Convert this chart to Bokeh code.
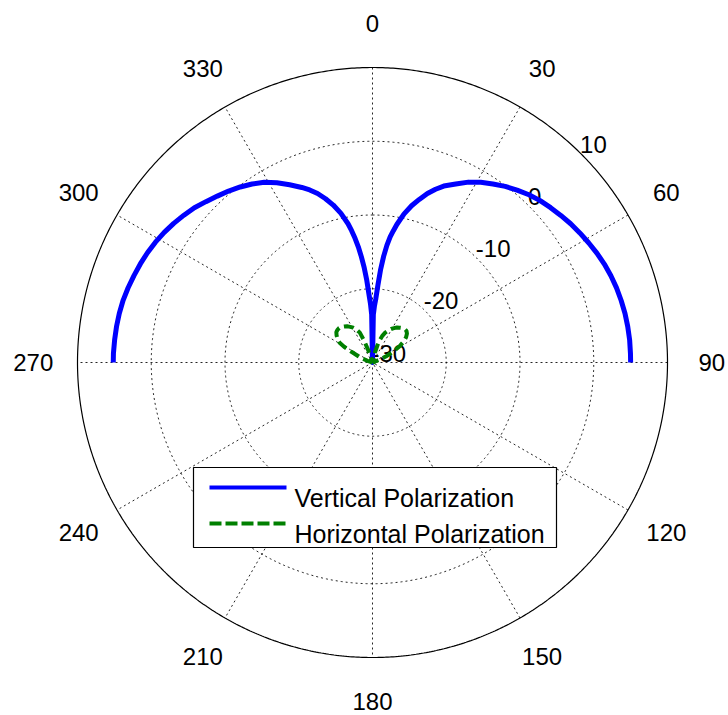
import numpy as np
from bokeh.plotting import figure
from bokeh.models import Range1d
from bokeh.core.properties import value
from bokeh.embed import file_html
from bokeh.resources import INLINE

# ---------------------------------------------------------------- data
# radial axis (dB) and angular ticks (degrees, 0 at top, clockwise)
R_MIN, R_MAX = -30, 10
radial_ticks = [-30, -20, -10, 0, 10]
angle_ticks = [0, 30, 60, 90, 120, 150, 180, 210, 240, 270, 300, 330]
spoke_angles = [0, 30, 60, 90, 120, 150]

# Vertical polarization (angle in degrees, gain in dB)
v_angle = [-90, -88, -85, -82, -79, -76, -73, -70, -67, -64,
           -61, -58, -55, -52, -49, -46, -43, -40, -37, -34,
           -31, -28, -25, -22, -20, -18, -16, -14, -12, -10,
           -9, -8, -7, -6, -5, -4, -3, -2, -1, 0,
           1, 2, 3, 4, 5, 6, 7, 8, 9, 10,
           12, 14, 16, 18, 20, 22, 25, 28, 31, 34,
           37, 40, 43, 46, 49, 52, 55, 58, 61, 64,
           67, 70, 73, 76, 79, 82, 85, 88, 90]
v_db = [5.15, 5.15, 5.1, 5.05, 4.97, 4.85, 4.65, 4.42, 4.2, 3.95,
        3.65, 3.3, 2.9, 2.45, 2.0, 1.4, 0.85, 0.35, -0.2, -0.8,
        -1.5, -2.4, -3.4, -4.4, -5.1, -5.9, -6.9, -8.0, -9.3, -10.9,
        -11.9, -13.0, -14.2, -15.6, -17.1, -18.8, -20.7, -22.0, -23.5, -30,
        -23.5, -22.3, -21.3, -19.5, -17.3, -15.5, -14.0, -12.8, -11.9, -11.0,
        -9.4, -8.1, -7.0, -5.9, -5.0, -4.2, -3.3, -2.3, -1.5, -0.8,
        -0.1, 0.5, 1.1, 1.6, 2.0, 2.4, 2.8, 3.15, 3.5, 3.85,
        4.15, 4.4, 4.6, 4.75, 4.88, 4.95, 5.0, 5.0, 5.0]

# Horizontal polarization (angle in degrees, gain in dB)
h_angle = [-90, -76, -72, -69, -66, -63, -61, -59, -56, -53,
           -50, -47, -44, -41, -38, -35, -32, -29, -26, -23,
           -21, -19, -16, -12, 0, 12, 14, 16, 18, 20,
           23, 26, 29, 32, 35, 38, 41, 44, 47, 50,
           53, 56, 59, 62, 65, 68, 71, 74, 90]
h_db = [-30, -30, -29.3, -28.6, -27.9, -26.8, -25.6, -24.8, -24.3, -23.9,
        -23.6, -23.5, -23.5, -23.6, -23.8, -24.0, -24.3, -24.6, -25.0, -25.6,
        -26.8, -28.3, -29.2, -30, -30, -30, -28.6, -27.6, -26.8, -26.2,
        -25.6, -25.2, -24.8, -24.5, -24.2, -24.0, -23.8, -23.7, -23.7, -23.9,
        -24.3, -24.9, -25.7, -26.7, -27.8, -28.8, -29.6, -30, -30]

series_names = ["Vertical Polarization", "Horizontal Polarization"]

# ---------------------------------------------------------------- layout
W, H = 728, 715
CX, CY = 372, 362            # pole position on the canvas (px)
R_PX = 295                    # outer ring radius (px)
PX = R_PX / (R_MAX - R_MIN)   # pixels per dB

FONT = value("Liberation Sans")


def polar_xy(theta_deg, db):
    """Compass-style polar -> cartesian (0 deg up, clockwise), clipped at R_MIN."""
    r = np.clip(np.asarray(db, dtype=float) - R_MIN, 0, None)
    t = np.radians(np.asarray(theta_deg, dtype=float))
    return r * np.sin(t), r * np.cos(t)


def px(x, y):
    """Canvas pixel position -> data coordinates."""
    return (x - CX) / PX, (CY - y) / PX


p = figure(width=W, height=H,
           x_range=Range1d(-CX / PX, (W - CX) / PX),
           y_range=Range1d(-(H - CY) / PX, CY / PX),
           output_backend="svg", toolbar_location=None,
           x_axis_location=None, y_axis_location=None,
           min_border=0)
p.grid.visible = False
p.outline_line_color = None
p.background_fill_color = "white"
p.border_fill_color = "white"

# dotted rings
full = np.linspace(0, 360, 721)
for tick in radial_ticks[1:-1]:
    x, y = polar_xy(full, np.full_like(full, tick))
    p.line(x, y, line_color="black", line_width=1, line_dash="2 3", line_alpha=0.85)

# dotted spokes across the whole circle
for a in spoke_angles:
    x0, y0 = polar_xy(a, R_MAX)
    x1, y1 = polar_xy(a + 180, R_MAX)
    p.line([x0, x1], [y0, y1], line_color="black", line_width=1,
           line_dash="2 3", line_alpha=0.85)

# outer ring
x, y = polar_xy(full, np.full_like(full, R_MAX))
p.line(x, y, line_color="black", line_width=1.2)

# angular tick labels
lab_r = R_MIN + (R_MAX - R_MIN) * 1.15
ax, ay = polar_xy(angle_ticks, [lab_r] * len(angle_ticks))
p.text(x=ax, y=ay, text=[str(a) for a in angle_ticks],
       text_font=FONT, text_font_size="24px", text_color="black",
       text_align="center", text_baseline="middle")

# radial tick labels along the 45 degree direction
rx, ry = polar_xy([45] * len(radial_ticks), radial_ticks)
p.text(x=rx, y=ry, text=[str(t) for t in radial_ticks],
       text_font=FONT, text_font_size="24px", text_color="black",
       text_align="left", text_baseline="alphabetic",
       x_offset=-1, y_offset=-9.5)

# patterns
vx, vy = polar_xy(v_angle, v_db)
p.line(vx, vy, line_color="#0000ff", line_width=5, line_join="round")

hx, hy = polar_xy(h_angle, h_db)
p.line(hx, hy, line_color="#008000", line_width=4, line_dash="10 5")

# legend box
bl, bt = px(193, 467)
br, bb = px(556, 547)
p.quad(left=[bl], right=[br], top=[bt], bottom=[bb],
       fill_color="white", line_color="black", line_width=1.2)

lx0, _ = px(209, 0)
lx1, _ = px(286, 0)
tx, _ = px(294, 0)
_, ly_v = px(0, 487)
_, ly_h = px(0, 523)
_, ty_v = px(0, 497)
_, ty_h = px(0, 533)
p.line([lx0, lx1], [ly_v, ly_v], line_color="#0000ff", line_width=4)
p.line([lx0, lx1], [ly_h, ly_h], line_color="#008000", line_width=4, line_dash="12 4")
p.text(x=[tx, tx], y=[ty_v, ty_h], text=series_names,
       text_font=FONT, text_font_size="25px", text_color="black",
       text_align="left", text_baseline="alphabetic")

with open("out.html", "w") as f:
    f.write(file_html(p, INLINE))
